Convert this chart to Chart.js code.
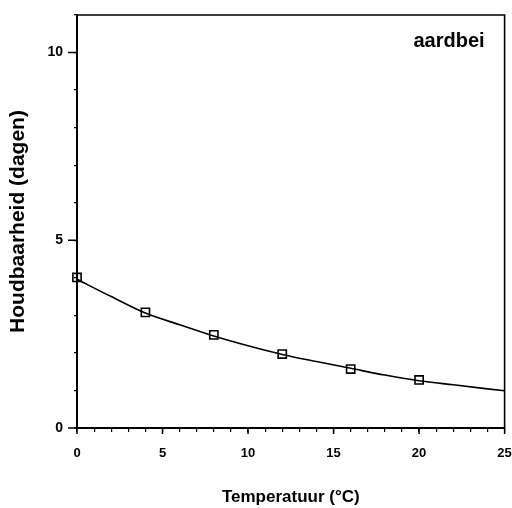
<!DOCTYPE html>
<html><head><meta charset="utf-8">
<script src="https://cdn.jsdelivr.net/npm/chart.js@4"></script>
<style>html,body{margin:0;padding:0;background:#fff;}#wrap{width:512px;height:508px;}</style>
</head><body><div id="wrap"><canvas id="c" width="512" height="508"></canvas></div>
<script>
const measuredTemps = [0, 4, 8, 12, 16, 20];
const measuredDays = [4.01, 3.08, 2.48, 1.97, 1.57, 1.28];
const curveTemps = [0, 2, 4, 6, 8, 10, 12, 14, 16, 18, 20, 22, 25];
const curveDays = [3.96, 3.50, 3.06, 2.75, 2.45, 2.19, 1.96, 1.77, 1.59, 1.41, 1.26, 1.15, 0.99];
const xLabels = [0, 5, 10, 15, 20, 25];
const yLabels = [0, 5, 10];
const label = 'aardbei';

const FONT = "'Liberation Sans', Arial, sans-serif";

const framePlugin = {
  id: 'frame',
  afterDraw(chart) {
    const {ctx, chartArea: a, scales} = chart;
    ctx.save();
    ctx.strokeStyle = '#000';
    ctx.lineWidth = 1.6;
    ctx.beginPath();
    ctx.moveTo(a.left, a.top); ctx.lineTo(a.right, a.top); ctx.lineTo(a.right, a.bottom);
    ctx.stroke();
    ctx.lineWidth = 1.5;
    ctx.beginPath();
    xLabels.forEach(v => { const px = scales.x.getPixelForValue(v); ctx.moveTo(px, a.bottom); ctx.lineTo(px, a.bottom + 6); });
    yLabels.forEach(v => { const py = scales.y.getPixelForValue(v); ctx.moveTo(a.left, py); ctx.lineTo(a.left - 9, py); });
    ctx.stroke();
    ctx.fillStyle = '#000';
    ctx.font = "bold 20px " + FONT;
    ctx.textAlign = 'right';
    ctx.textBaseline = 'alphabetic';
    ctx.fillText(label, a.right - 20, 47);
    ctx.restore();
  }
};

new Chart(document.getElementById('c'), {
  type: 'scatter',
  data: {
    datasets: [
      {
        type: 'line',
        data: curveTemps.map((t, i) => ({x: t, y: curveDays[i]})),
        borderColor: '#000', borderWidth: 1.6, pointRadius: 0,
        cubicInterpolationMode: 'monotone', fill: false, order: 2, clip: false
      },
      {
        data: measuredTemps.map((t, i) => ({x: t, y: measuredDays[i]})),
        pointStyle: 'rect', pointRadius: 5.8, borderWidth: 1.6,
        borderColor: '#000', backgroundColor: 'rgba(255,255,255,0)', order: 1, clip: false
      }
    ]
  },
  options: {
    responsive: false, animation: false, devicePixelRatio: 1,
    layout: {padding: {top: 15, right: 7, left: 0, bottom: 0}},
    plugins: {legend: {display: false}, tooltip: {enabled: false}},
    scales: {
      x: {
        type: 'linear', min: 0, max: 25,
        afterFit(s) { s.height = 80; s.paddingLeft = 0; s.paddingRight = 0; },
        border: {display: true, color: '#000', width: 2},
        grid: {drawOnChartArea: false, drawTicks: true, tickLength: 4, color: '#000', lineWidth: 1.2},
        ticks: {stepSize: 1, autoSkip: false, maxRotation: 0, color: '#000', padding: 14,
          font: {family: FONT, size: 13, weight: 'bold'},
          callback: v => xLabels.includes(v) ? String(v) : ''},
        title: {display: true, text: 'Temperatuur (°C)', color: '#000',
          font: {family: FONT, size: 17, weight: 'bold'}, padding: {top: 0, bottom: 0}}
      },
      y: {
        type: 'linear', min: 0, max: 11,
        afterFit(s) { s.width = 77; s.paddingTop = 0; s.paddingBottom = 0; },
        border: {display: true, color: '#000', width: 2},
        grid: {drawOnChartArea: false, drawTicks: true, tickLength: 3, color: '#000', lineWidth: 1.2},
        ticks: {stepSize: 1, autoSkip: false, color: '#000', padding: 11,
          font: {family: FONT, size: 14, weight: 'bold'},
          callback: v => yLabels.includes(v) ? String(v) : ''},
        title: {display: true, text: 'Houdbaarheid (dagen)', color: '#000',
          font: {family: FONT, size: 21, weight: 'bold'}, padding: {top: 6, bottom: 0}}
      }
    }
  },
  plugins: [framePlugin]
});
</script></body></html>
